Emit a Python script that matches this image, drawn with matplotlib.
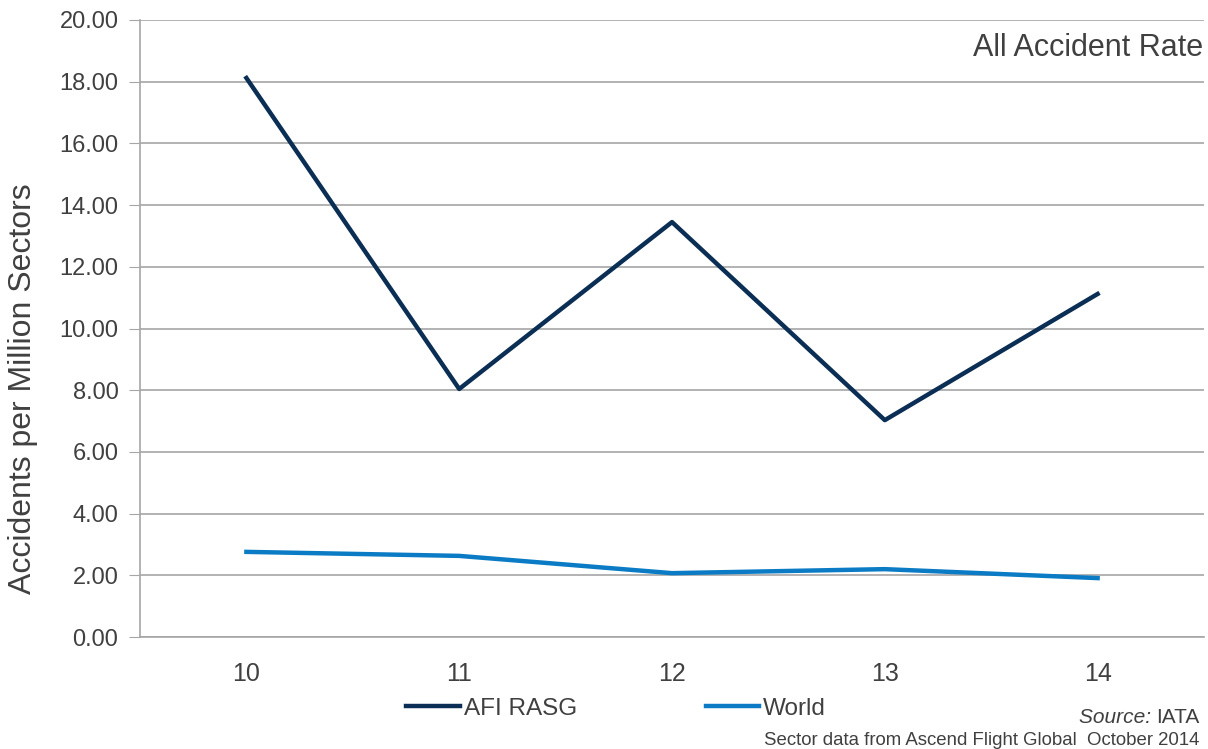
import matplotlib.pyplot as plt

# data
years = ["10", "11", "12", "13", "14"]
afi_rasg = [18.12, 8.04, 13.45, 7.03, 11.12]
world = [2.76, 2.63, 2.07, 2.20, 1.91]

plt.rcParams['font.family'] = ['Liberation Sans', 'DejaVu Sans']
grey = '#404040'

fig = plt.figure(figsize=(12.08, 7.49), dpi=100)
ax = fig.add_axes([0.1159, 0.1495, 0.8808, 0.8238])

x = list(range(len(years)))
ax.plot(x, afi_rasg, color='#0b2e55', lw=3.2, label='AFI RASG')
ax.plot(x, world, color='#0a7bc4', lw=3.2, label='World')

ax.set_xlim(-0.5, 4.5)
ax.set_ylim(0, 20)
ax.set_yticks(range(0, 21, 2))
ax.set_yticklabels([f"{v:.2f}" for v in range(0, 21, 2)])
ax.set_xticks(x)
ax.set_xticklabels(years)
ax.grid(axis='y', color='#a6a6a6', lw=1.2)
ax.set_axisbelow(True)
for s in ['top', 'right']:
    ax.spines[s].set_visible(False)
for s in ['left', 'bottom']:
    ax.spines[s].set_color('#a6a6a6')
    ax.spines[s].set_linewidth(1.2)
ax.tick_params(axis='y', length=8, color='#a6a6a6', labelsize=17, labelcolor=grey, pad=7.5)
ax.tick_params(axis='x', length=0, labelsize=18, labelcolor=grey, pad=18)

ax.set_ylabel('Accidents per Million Sectors', fontsize=23, color=grey)
ax.yaxis.set_label_coords(-0.096, 0.402)

ax.text(0.999, 0.955, 'All Accident Rate', transform=ax.transAxes, ha='right', va='center',
        fontsize=22, color=grey)

fig.legend(loc='center', bbox_to_anchor=(0.51, 0.054), ncol=2, frameon=False,
           fontsize=17.5, handlelength=2.2, handletextpad=0.15, columnspacing=5.3,
           labelcolor=grey)

iata = fig.text(0.993, 0.042, 'IATA', ha='right', va='center', fontsize=15, color=grey)
ax.annotate('Source: ', xy=(0, 0.5), xycoords=iata, ha='right', va='center',
            fontsize=15, color=grey, style='italic')
fig.text(0.993, 0.012, 'Sector data from Ascend Flight Global  October 2014', ha='right', va='center',
         fontsize=13.4, color=grey)

fig.savefig('out.png', dpi=100)
